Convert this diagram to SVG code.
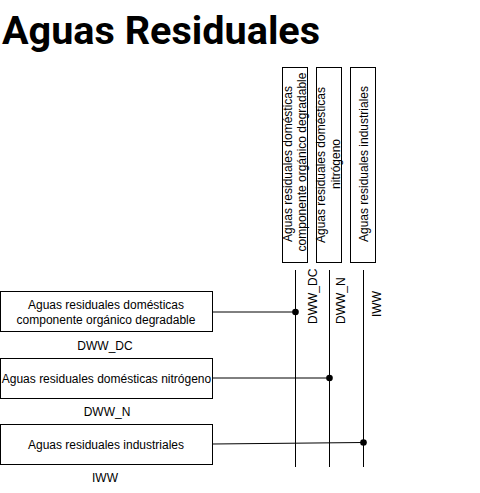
<svg xmlns="http://www.w3.org/2000/svg" width="480" height="493" viewBox="0 0 480 493">
<style>
.box{fill:#ffffff;stroke:#000000;stroke-width:1}
.t{font-family:"Liberation Sans",Arial,sans-serif;font-size:12px;fill:#000000}
.c{text-anchor:middle}
.title{font-family:Roboto,"Liberation Sans",sans-serif;font-weight:bold;font-size:39.6px;fill:#000000}
.wire{fill:none;stroke:#000000;stroke-width:1}
.dot{fill:#000000}
</style>
<rect width="480" height="493" fill="#ffffff"/>
<text class="title" x="2" y="44">Aguas Residuales</text>

<g id="connectors">
  <line class="wire" x1="295.5" y1="270" x2="295.5" y2="467"/>
  <line class="wire" x1="329.5" y1="270" x2="329.5" y2="467"/>
  <line class="wire" x1="363.5" y1="270" x2="363.5" y2="467"/>
  <path class="wire" d="M212.5 312 L295.5 312"/>
  <path class="wire" d="M212.5 378 L329.5 378"/>
  <path class="wire" d="M212.5 444 L363.5 442.5"/>
  <circle class="dot" cx="295.5" cy="312" r="3.3"/>
  <circle class="dot" cx="329.5" cy="378" r="3.3"/>
  <circle class="dot" cx="363.5" cy="442.5" r="3.3"/>
</g>

<g id="v-dww-dc">
  <rect class="box" x="282.5" y="67.5" width="25" height="195"/>
  <text class="t c" transform="translate(291.5,164) rotate(-90)">Aguas residuales domésticas</text>
  <text class="t c" transform="translate(306,162) rotate(-90)">componente orgánico degradable</text>
</g>
<g id="v-dww-n">
  <rect class="box" x="316.5" y="67.5" width="25" height="195"/>
  <text class="t c" transform="translate(325,165) rotate(-90)">Aguas residuales domésticas</text>
  <text class="t c" transform="translate(339.5,164) rotate(-90)">nitrógeno</text>
</g>
<g id="v-iww">
  <rect class="box" x="350.5" y="67.5" width="25" height="195"/>
  <text class="t c" transform="translate(367.5,164) rotate(-90)">Aguas residuales industriales</text>
</g>

<g id="lbl-v-dww-dc"><text class="t" transform="translate(317,324) rotate(-90)">DWW_DC</text></g>
<g id="lbl-v-dww-n"><text class="t" transform="translate(345,324) rotate(-90)">DWW_N</text></g>
<g id="lbl-v-iww"><text class="t c" transform="translate(380.5,304) rotate(-90)">IWW</text></g>

<g id="dww-dc">
  <rect class="box" x="0.5" y="291.5" width="212" height="40"/>
  <text class="t c" x="106" y="309">Aguas residuales domésticas</text>
  <text class="t c" x="106" y="323.5">componente orgánico degradable</text>
</g>
<g id="lbl-dww-dc"><text class="t c" x="105" y="349.5">DWW_DC</text></g>

<g id="dww-n">
  <rect class="box" x="0.5" y="358.5" width="212" height="40"/>
  <text class="t c" x="106.5" y="382.5">Aguas residuales domésticas nitrógeno</text>
</g>
<g id="lbl-dww-n"><text class="t c" x="107" y="416">DWW_N</text></g>

<g id="iww">
  <rect class="box" x="0.5" y="424.5" width="212" height="40"/>
  <text class="t c" x="106" y="448.5">Aguas residuales industriales</text>
</g>
<g id="lbl-iww"><text class="t c" x="105" y="482">IWW</text></g>
</svg>
